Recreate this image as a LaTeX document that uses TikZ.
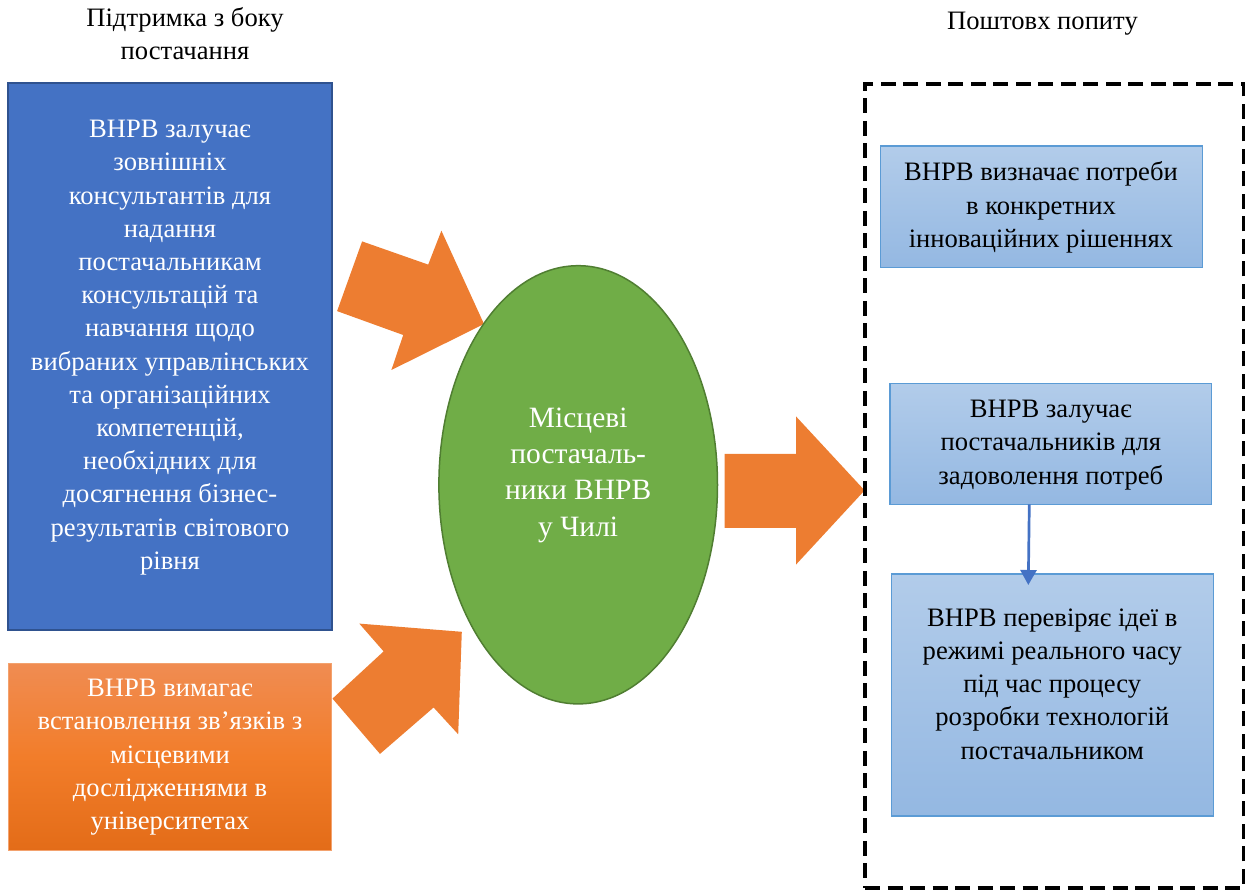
\documentclass[tikz,border=0pt]{standalone}
\usepackage{fontspec}
\setmainfont{Liberation Serif}
\usetikzlibrary{shapes.geometric,arrows.meta,calc}
\definecolor{blueA}{HTML}{4472C4}
\definecolor{blueB}{HTML}{2F528F}
\definecolor{orA}{HTML}{ED7D31}
\definecolor{orTop}{HTML}{F08C52}
\definecolor{orMid}{HTML}{F27D2A}
\definecolor{orBot}{HTML}{E36C18}
\definecolor{orBd}{HTML}{F3A26E}
\definecolor{grA}{HTML}{70AD47}
\definecolor{grB}{HTML}{507E32}
\definecolor{ltTop}{HTML}{B2CCEA}
\definecolor{ltBot}{HTML}{94B8E2}
\definecolor{ltBd}{HTML}{5B9BD5}
\begin{document}
\begin{tikzpicture}[x=1pt,y=-1pt,
  every node/.style={inner sep=0pt,outer sep=0pt},
  txt/.style={font=\fontsize{26.6}{33.2}\selectfont,align=center},
  bigtxt/.style={font=\fontsize{29.5}{36.4}\selectfont,align=center},
  wtxt/.style={txt,text=white},
  bluebox/.style={draw=blueB,line width=2pt,fill=blueA,rectangle},
  orbox/.style={draw=orBd,line width=1pt,top color=orTop,bottom color=orBot,middle color=orMid,rectangle},
  ltbox/.style={draw=ltBd,line width=1.5pt,top color=ltTop,bottom color=ltBot,rectangle},
  dashbox/.style={draw=black,line width=3.5pt,dash pattern=on 15pt off 7.5pt,rectangle},
  blockarrow/.style={fill=orA,draw=none},
  linkarrow/.style={draw=blueA,line width=2.7pt,-{Triangle[width=16pt,length=15pt]}}
]
\useasboundingbox (0,0) rectangle (1256,890);

% titles
\node[txt] (t1) at (185,36.7) {\strut Підтримка з боку\\постачання\strut};
\node[txt] (t2) at (1042.5,23) {\strut Поштовх попиту\strut};

% left boxes
\node[bluebox,minimum width=324pt,minimum height=547pt] (sup) at (170,356.5) {};
\node[wtxt] (supt) at (170,346.9) {\strut ВНРВ залучає\\зовнішніх\\консультантів для\\надання\\постачальникам\\консультацій та\\навчання щодо\\вибраних управлінських\\та організаційних\\компетенцій,\\необхідних для\\досягнення бізнес-\\результатів світового\\рівня\strut};

\node[orbox,minimum width=322.7pt,minimum height=187.4pt] (uni) at (170.3,757) {};
\node[wtxt] (unit) at (170,756.5) {\strut ВНРВ вимагає\\встановлення зв’язків з\\місцевими\\дослідженнями в\\університетах\strut};

% block arrows
\fill[blockarrow] (362.1,241.4) -- (428.2,264.6) -- (441.4,230.7) -- (484,324) -- (391.4,370) -- (403.2,335) -- (337.1,311.1) -- cycle;
\fill[blockarrow] (383.6,651.4) -- (359.3,623.6) -- (461.8,631.8) -- (458.2,734.3) -- (433.6,707.5) -- (380,753.9) -- (332.5,698.6) -- cycle;
\fill[blockarrow] (724.6,453.9) -- (796,453.9) -- (796,416.4) -- (864.6,490.4) -- (796,564.6) -- (796,527.9) -- (724.6,527.9) -- cycle;

% ellipse
\node[ellipse,draw=grB,line width=1.5pt,fill=grA,minimum width=278.6pt,minimum height=438.2pt] (loc) at (578.2,484.8) {};
\node[bigtxt,text=white] (loct) at (578.2,474.5) {\strut Місцеві\\постачаль-\\ники ВНРВ\\у Чилі\strut};

% demand side
\node[dashbox,minimum width=378.3pt,minimum height=804pt] (dem) at (1054.2,486) {};

\node[ltbox,minimum width=322pt,minimum height=121.3pt] (b1) at (1041.3,206.7) {};
\node[txt] (b1t) at (1041,207.5) {\strut ВНРВ визначає потреби\\в конкретних\\інноваційних рішеннях\strut};

\node[ltbox,minimum width=321.7pt,minimum height=121pt] (b2) at (1050.8,443.8) {};
\node[txt] (b2t) at (1050.8,444.2) {\strut ВНРВ залучає\\постачальників для\\задоволення потреб\strut};

\node[ltbox,minimum width=321.6pt,minimum height=242pt] (b3) at (1052.5,695) {};
\node[txt] (b3t) at (1052.3,686) {\strut ВНРВ перевіряє ідеї в\\режимі реального часу\\під час процесу\\розробки технологій\\постачальником\strut};

\draw[linkarrow] ([xshift=-21.5pt]b2.south) -- ([xshift=-24.2pt,yshift=-11pt]b3.north);
\end{tikzpicture}
\end{document}
